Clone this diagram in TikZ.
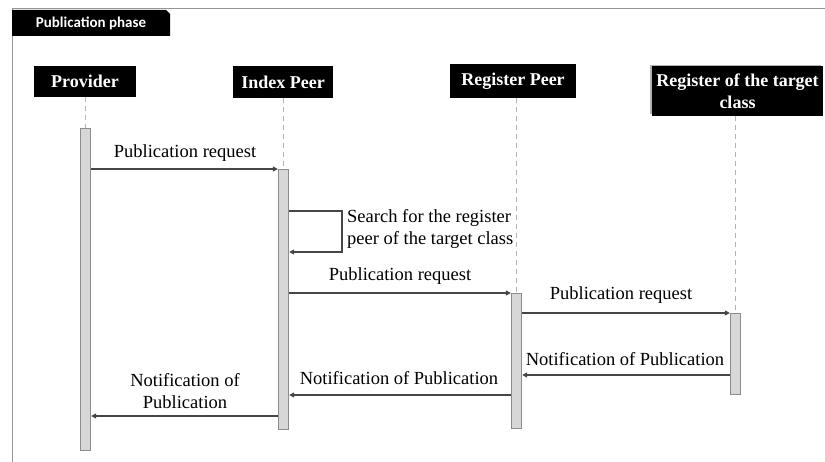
\documentclass[tikz,border=0pt]{standalone}
\usepackage{fontspec}
\setmainfont{Liberation Serif}
\newfontfamily\tabfont{Carlito}
\usetikzlibrary{arrows.meta,calc}
\definecolor{framegray}{RGB}{150,150,150}
\definecolor{lifegray}{RGB}{180,180,180}
\definecolor{barfill}{RGB}{215,215,215}
\definecolor{bardraw}{RGB}{140,140,140}
\definecolor{msgline}{RGB}{70,70,70}
\begin{document}
\begin{tikzpicture}[x=1pt,y=-1pt,
  actor/.style={fill=black,text=white,font=\fontsize{18}{22}\selectfont\bfseries,
    inner sep=0pt,align=center},
  lifeline/.style={draw=lifegray,line width=1.3pt,dash pattern=on 5pt off 4pt},
  bar/.style={fill=barfill,draw=bardraw,line width=0.8pt,inner sep=0pt,
    minimum width=10.5pt,anchor=north},
  msg/.style={draw=msgline,line width=1.3pt,-{Triangle[length=5pt,width=5pt]}},
  lbl/.style={font=\fontsize{18.5}{22}\selectfont,inner sep=0pt,align=center}]

\useasboundingbox (0,0) rectangle (825,462);
\fill[white] (0,0) rectangle (825,462);

% frame with its title tab
\draw[framegray,line width=1pt] (12,462) -- (12,8.5) -- (825,8.5);
\fill[black] (12,10) -- (166,10) -- (170,14) -- (170,36) -- (12,36) -- cycle;
\node[text=white,font=\tabfont\fontsize{15}{18}\selectfont\bfseries,inner sep=0pt]
  (phase) at (91,23) {Publication phase};

% participants
\node[actor,minimum width=102pt,minimum height=31pt] (prov) at (85,81.5) {Provider};
\node[actor,minimum width=100pt,minimum height=32pt] (index) at (283,82) {Index Peer};
\node[actor,minimum width=126pt,minimum height=34pt] (reg) at (513,81) {Register Peer};
\fill[gray!60] (650,65) rectangle (821,114);
\node[actor,minimum width=171pt,minimum height=50pt] (target) at (737.5,91)
  {Register of the target\\class};

% activation bars
\node[bar,minimum height=322pt] (pbar) at (85.5,128) {};
\node[bar,minimum height=260pt] (ibar) at (283.5,169) {};
\node[bar,minimum height=135pt] (rbar) at (516.5,293) {};
\node[bar,minimum height=81pt]  (tbar) at (735.5,313) {};

% lifelines
\draw[lifeline] (prov.south -| pbar.north) -- (pbar.north);
\draw[lifeline] (index.south -| ibar.north) -- (ibar.north);
\draw[lifeline] (reg.south -| rbar.north) -- (rbar.north);
\draw[lifeline] (target.south -| tbar.north) -- (tbar.north);

% messages
\draw[msg] (pbar.east |- 0,169) -- (ibar.west |- 0,169);
\node[lbl] (m1) at (185,153) {Publication request};

\coordinate (selfa) at (342,211);
\coordinate (selfb) at (342,252);
\draw[msg] (ibar.east |- selfa) -- (selfa) -- (selfb) -- (ibar.east |- selfb);
\node[lbl,align=left,anchor=west] (m2) at (347,228.5)
  {Search for the register\\peer of the target class};

\draw[msg] (ibar.east |- 0,293) -- (rbar.west |- 0,293);
\node[lbl] (m3) at (400,276) {Publication request};

\draw[msg] (rbar.east |- 0,313) -- (tbar.west |- 0,313);
\node[lbl] (m4) at (621,295) {Publication request};

\draw[msg] (tbar.west |- 0,375) -- (rbar.east |- 0,375);
\node[lbl] (m5) at (625,359) {Notification of Publication};

\draw[msg] (rbar.west |- 0,395) -- (ibar.east |- 0,395);
\node[lbl] (m6) at (399,378) {Notification of Publication};

\draw[msg] (ibar.west |- 0,416) -- (pbar.east |- 0,416);
\node[lbl] (m7) at (185,391) {Notification of\\Publication};

\end{tikzpicture}
\end{document}
